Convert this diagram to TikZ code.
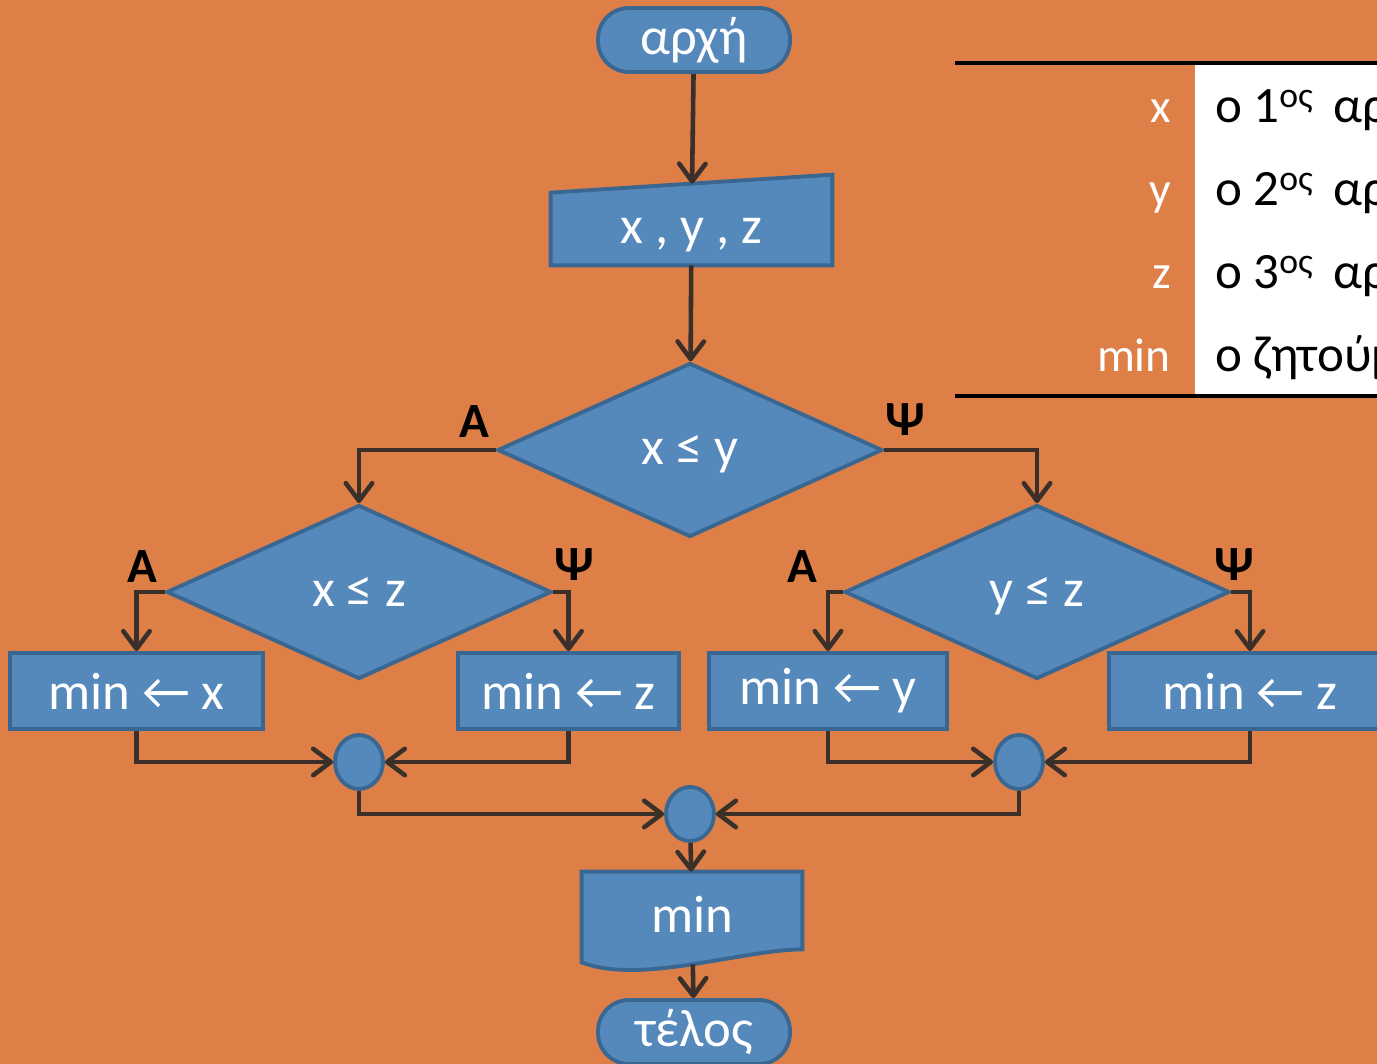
\documentclass[tikz,border=0pt]{standalone}
\usepackage{fontspec}
\setmainfont{Carlito}
\usetikzlibrary{shapes.geometric,arrows.meta,backgrounds}
\definecolor{bgorange}{HTML}{DD7F47}
\definecolor{boxfill}{HTML}{5689BB}
\definecolor{boxedge}{HTML}{3A6792}
\definecolor{arrowdark}{HTML}{3B3029}

\begin{document}
\begin{tikzpicture}[
    every node/.style={font=\fontsize{30}{34}\selectfont},
    block/.style={draw=boxedge, fill=boxfill, line width=2.2pt, text=white, inner sep=0pt},
    terminal/.style={block, rectangle, rounded corners=0.62cm, minimum width=3.84cm, minimum height=1.28cm},
    process/.style={block, rectangle, minimum height=1.52cm},
    decision/.style={block, diamond, minimum width=7.7cm, minimum height=3.48cm, text height=17pt, text depth=0pt},
    junction/.style={block, ellipse, minimum width=0.96cm, minimum height=1.08cm},
    textonly/.style={text=white, inner sep=0pt, rectangle},
    yesno/.style={font=\fontsize{28}{32}\selectfont\bfseries, text=black},
    flow/.style={draw=arrowdark, line width=2.6pt, -{Straight Barb[length=10pt,width=15pt,round]}},
    legname/.style={anchor=base east, text=white, font=\fontsize{27}{32}\selectfont},
    legtext/.style={anchor=base west, text=black, font=\fontsize{29}{32}\selectfont}
  ]
      \useasboundingbox (0,0) rectangle (27.54,21.28);
      \clip (0,0) rectangle (27.54,21.28);
      \begin{scope}[on background layer]
        \fill[bgorange] (0,0) rectangle (27.54,21.28);
      \end{scope}

      % legend
      \fill[white] (23.90,13.40) rectangle (28,19.98);
      \draw[line width=2.8pt] (19.10,20.02) -- (28,20.02);
      \draw[line width=2.8pt] (19.10,13.36) -- (28,13.36);
      \node[legname] (nx) at (23.54,18.82) {x};
      \node[legname] (ny) at (23.54,17.16) {y};
      \node[legname] (nz) at (23.54,15.50) {z};
      \node[legname] (nmin) at (23.54,13.84) {min};
      \node[legtext] (tx) at (24.18,18.82) {ο 1\textsuperscript{ος}\, αριθμός};
      \node[legtext] (ty) at (24.18,17.16) {ο 2\textsuperscript{ος}\, αριθμός};
      \node[legtext] (tz) at (24.18,15.50) {ο 3\textsuperscript{ος}\, αριθμός};
      \node[legtext] (tmin) at (24.18,13.84) {ο ζητούμενος};

      % flowchart
      \node[terminal] (start) at (13.88,20.48) {αρχή};
      \node[textonly, minimum width=5.62cm, minimum height=1.62cm, text height=22pt, text depth=0pt] (in) at (13.83,16.79) {x , y , z};
      \node[decision] (d1) at (13.80,12.28) {x ≤ y};
      \node[decision] (d2) at (7.18,9.44) {x ≤ z};
      \node[decision] (d3) at (20.74,9.44) {y ≤ z};
      \node[process, minimum width=5.06cm] (b1) at (2.73,7.46) {min ← x};
      \node[process, minimum width=4.42cm] (b2) at (11.37,7.46) {min ← z};
      \node[process, minimum width=4.76cm] (b3) at (16.56,7.46) {min ← y};
      \node[process, minimum width=5.64cm] (b4) at (25.00,7.46) {min ← z};
      \node[junction] (c1) at (7.18,6.04) {};
      \node[junction] (c2) at (20.38,6.04) {};
      \node[junction] (c3) at (13.80,5.00) {};
      \node[textonly, minimum width=4.4cm, minimum height=1.84cm, text height=16pt, text depth=0pt] (out) at (13.84,2.92) {min};
      \node[terminal] (end) at (13.88,0.64) {τέλος};

      \node[yesno] (a1) at (9.48,12.84) {Α};
      \node[yesno] (p1) at (18.10,12.88) {Ψ};
      \node[yesno] (a2) at (2.84,9.94) {Α};
      \node[yesno] (p2) at (11.48,9.98) {Ψ};
      \node[yesno] (a3) at (16.04,9.94) {Α};
      \node[yesno] (p3) at (24.68,9.98) {Ψ};

      \begin{scope}[on background layer]
        \filldraw[block] (in.south west) -- (in.south east) -- ([yshift=0.18cm]in.north east)
          -- ([yshift=-0.18cm]in.north west) -- cycle;
        \filldraw[block] (out.north west) -- (out.north east) -- ([yshift=0.30cm]out.south east)
          .. controls (14.80,2.28) and (12.80,1.58) .. ([yshift=0.04cm]out.south west) -- cycle;
      \end{scope}

      \draw[flow] (start) -- (in);
      \draw[flow] (in) -- (d1);
      \draw[flow] (d1.west) -| (d2.north);
      \draw[flow] (d1.east) -| (d3.north);
      \draw[flow] (d2.west) -| (b1.north);
      \draw[flow] (d2.east) -| (b2.north);
      \draw[flow] (d3.west) -| (b3.north);
      \draw[flow] (d3.east) -| (b4.north);
      \draw[flow] (b1.south) |- (c1.west);
      \draw[flow] (b2.south) |- (c1.east);
      \draw[flow] (b3.south) |- (c2.west);
      \draw[flow] (b4.south) |- (c2.east);
      \draw[flow] (c1.south) |- (c3.west);
      \draw[flow] (c2.south) |- (c3.east);
      \draw[flow] (c3) -- (out);
      \draw[flow] (out) -- (end);
    \end{tikzpicture}
\end{document}
